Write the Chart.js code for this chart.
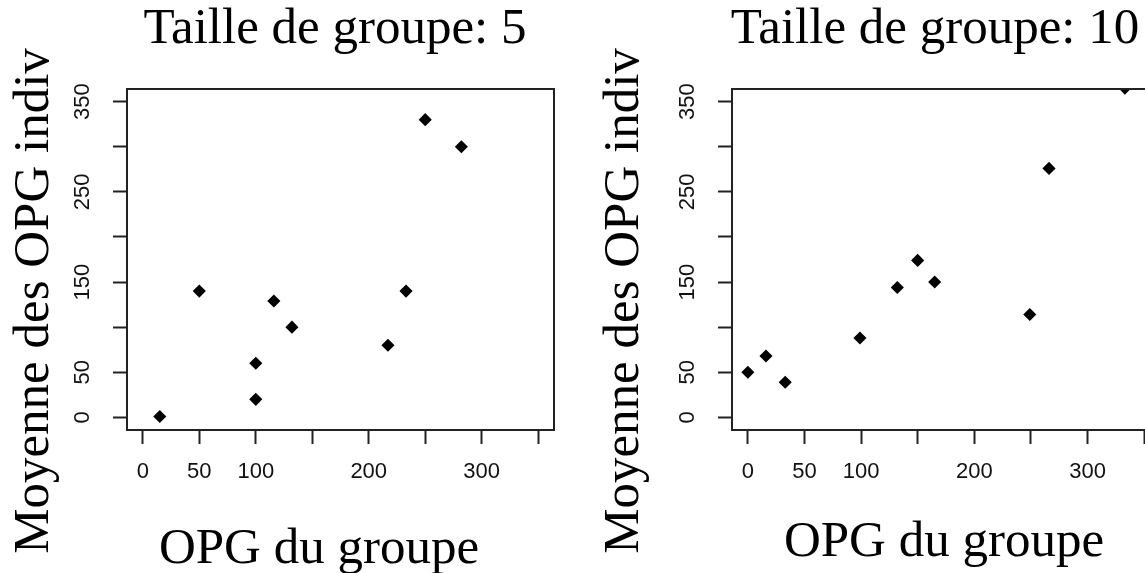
<!DOCTYPE html>
<html>
<head>
<meta charset="utf-8">
<script src="https://cdn.jsdelivr.net/npm/chart.js@4.4.1/dist/chart.umd.min.js"></script>
<style>
  html, body { margin: 0; padding: 0; background: #fff; overflow: hidden; }
  #wrap { position: relative; width: 1145px; height: 573px; overflow: hidden; }
  canvas { position: absolute; top: 0; }
  #chart5 { left: 0; }
  #chart10 { left: 590px; }
</style>
</head>
<body>
<div id="wrap">
  <canvas id="chart5" width="590" height="573"></canvas>
  <canvas id="chart10" width="600" height="573"></canvas>
</div>
<script>
// OPG du groupe (x) vs moyenne des OPG individuels (y), one panel per group size
var panelTitles = ['Taille de groupe: 5', 'Taille de groupe: 10'];
var xAxisTitle = 'OPG du groupe';
var yAxisTitle = 'Moyenne des OPG indiv';

var opgGroup5 = [15, 50, 100, 100, 116, 132, 217, 233, 250, 282];
var opgIndiv5 = [1, 140, 60, 20, 129, 100, 80, 140, 330, 300];

var opgGroup10 = [0, 16, 33, 99, 132, 150, 165, 249, 266, 333];
var opgIndiv10 = [50, 68, 39, 88, 144, 174, 150, 114, 276, 365];

var tickValues = [0, 50, 100, 150, 200, 250, 300, 350];
var xTickLabels = [0, 50, 100, 200, 300];
var yTickLabels = [0, 50, 150, 250, 350];
var axisMin = -14, axisMax = 364;

function toPoints(xs, ys) {
    return xs.map(function (x, i) { return { x: x, y: ys[i] }; });
}

// R style: box around the plot region
var boxPlugin = {
    id: 'plotBox',
    afterDatasetsDraw: function (chart) {
        var a = chart.chartArea, ctx = chart.ctx;
        ctx.save();
        ctx.strokeStyle = '#222';
        ctx.lineWidth = 2;
        ctx.strokeRect(a.left, a.top, a.right - a.left, a.bottom - a.top);
        ctx.restore();
    }
};

// titles placed where they sit in the figure
var textPlugin = {
    id: 'panelText',
    afterDraw: function (chart, args, opts) {
        var ctx = chart.ctx;
        ctx.save();
        ctx.fillStyle = '#000';
        ctx.font = '51px "Liberation Serif"';
        ctx.textAlign = 'center';
        ctx.textBaseline = 'alphabetic';
        ctx.fillText(opts.title, opts.titleX, 43);
        ctx.fillText(xAxisTitle, opts.xTitleX, opts.xTitleY);
        ctx.translate(48, 301);
        ctx.rotate(-Math.PI / 2);
        ctx.fillText(yAxisTitle, 0, 0);
        ctx.restore();
    }
};

function axis(labels, isY, size) {
    return {
        type: 'linear',
        min: axisMin,
        max: axisMax,
        afterBuildTicks: function (scale) {
            scale.ticks = tickValues.map(function (v) { return { value: v }; });
        },
        afterFit: function (scale) {
            if (isY) scale.width = size; else scale.height = size;
        },
        grid: {
            drawOnChartArea: false,
            drawTicks: true,
            tickLength: 14,
            tickWidth: 2,
            tickColor: '#222'
        },
        border: { display: false },
        ticks: {
            autoSkip: false,
            color: '#111',
            padding: isY ? 12 : 15,
            minRotation: isY ? 90 : 0,
            maxRotation: isY ? 90 : 0,
            crossAlign: isY ? 'center' : 'near',
            font: { family: 'Liberation Sans', size: 22 },
            callback: function (v) { return labels.indexOf(v) >= 0 ? String(v) : ''; }
        }
    };
}

function makeChart(id, xs, ys, txt, yWidth, padRight) {
    return new Chart(document.getElementById(id), {
        type: 'scatter',
        data: {
            datasets: [{
                data: toPoints(xs, ys),
                pointStyle: 'rectRot',
                pointRadius: 5.5,
                pointHoverRadius: 5.5,
                borderWidth: 1.5,
                backgroundColor: '#000',
                borderColor: '#000',
                clip: 0
            }]
        },
        options: {
            responsive: false,
            animation: false,
            layout: { padding: { top: 89, right: padRight, left: 0, bottom: 0 } },
            scales: {
                x: axis(xTickLabels, false, 143),
                y: axis(yTickLabels, true, yWidth)
            },
            plugins: {
                legend: { display: false },
                tooltip: { enabled: false },
                panelText: txt
            }
        },
        plugins: [boxPlugin, textPlugin]
    });
}

document.fonts.load('51px "Liberation Serif"').then(function () {
    return document.fonts.load('22px "Liberation Sans"');
}).then(function () {
    makeChart('chart5', opgGroup5, opgIndiv5,
        { title: panelTitles[0], titleX: 335, xTitleX: 319, xTitleY: 563 }, 127, 36);
    makeChart('chart10', opgGroup10, opgIndiv10,
        { title: panelTitles[1], titleX: 345, xTitleX: 354, xTitleY: 556 }, 142, 30);
});
</script>
</body>
</html>
